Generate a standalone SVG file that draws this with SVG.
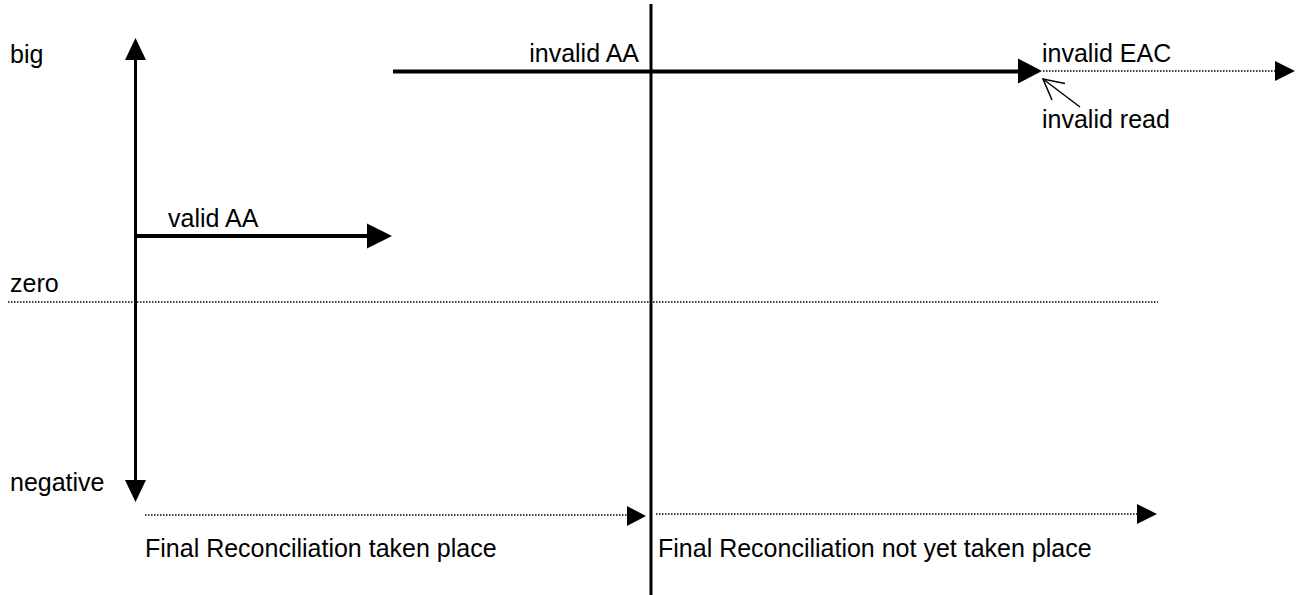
<svg xmlns="http://www.w3.org/2000/svg" width="1302" height="595" viewBox="0 0 1302 595">
<style>
text{font-family:"Liberation Sans",Arial,sans-serif;font-size:25px;fill:#000}
.thick{stroke:#000;stroke-width:4;fill:none}
.axis{stroke:#000;stroke-width:3;fill:none}
.dot{stroke:#000;stroke-width:1.3;stroke-dasharray:1.5 1.5;fill:none}
.thin{stroke:#000;stroke-width:1.5;fill:none}
</style>
<rect width="1302" height="595" fill="#fff"/>
<g id="labels">
<text x="10" y="63">big</text>
<text x="10" y="292">zero</text>
<text x="10" y="491">negative</text>
</g>
<g id="connectors">
<!-- vertical axis -->
<line class="axis" x1="135.5" y1="58" x2="135.5" y2="482"/>
<polygon points="135.5,38 125,60 146,60"/>
<polygon points="135.5,502 125,480 146,480"/>
<!-- divider -->
<line class="axis" x1="651" y1="4" x2="651" y2="595"/>
<!-- zero line -->
<line class="dot" x1="8" y1="302" x2="1158" y2="302"/>
<!-- valid AA -->
<line class="thick" x1="137" y1="236" x2="368" y2="236"/>
<polygon points="392,236 367,223.5 367,248.5"/>
<!-- invalid AA -->
<line class="thick" x1="393" y1="71.5" x2="1020" y2="71.5"/>
<polygon points="1042,71 1018,58.5 1018,83.5"/>
<!-- invalid EAC dotted -->
<line class="dot" x1="1043" y1="71" x2="1276" y2="71"/>
<polygon points="1295,71 1275,61 1275,81"/>
<!-- invalid read -->
<line class="thin" x1="1080" y1="107" x2="1043" y2="79"/>
<polyline class="thin" points="1065,83.5 1043,79 1052,100"/>
<!-- bottom dotted arrows -->
<line class="dot" x1="145" y1="515" x2="628" y2="515"/>
<polygon points="646,516 627,506 627,526"/>
<line class="dot" x1="656" y1="514" x2="1138" y2="514"/>
<polygon points="1157,514 1137,504 1137,524"/>
</g>
<g id="texts">
<text x="168" y="227">valid AA</text>
<text x="639" y="62" text-anchor="end">invalid AA</text>
<text x="1042" y="62">invalid EAC</text>
<text x="1042" y="128">invalid read</text>
<text x="145" y="557">Final Reconciliation taken place</text>
<text x="658" y="557">Final Reconciliation not yet taken place</text>
</g>
</svg>
